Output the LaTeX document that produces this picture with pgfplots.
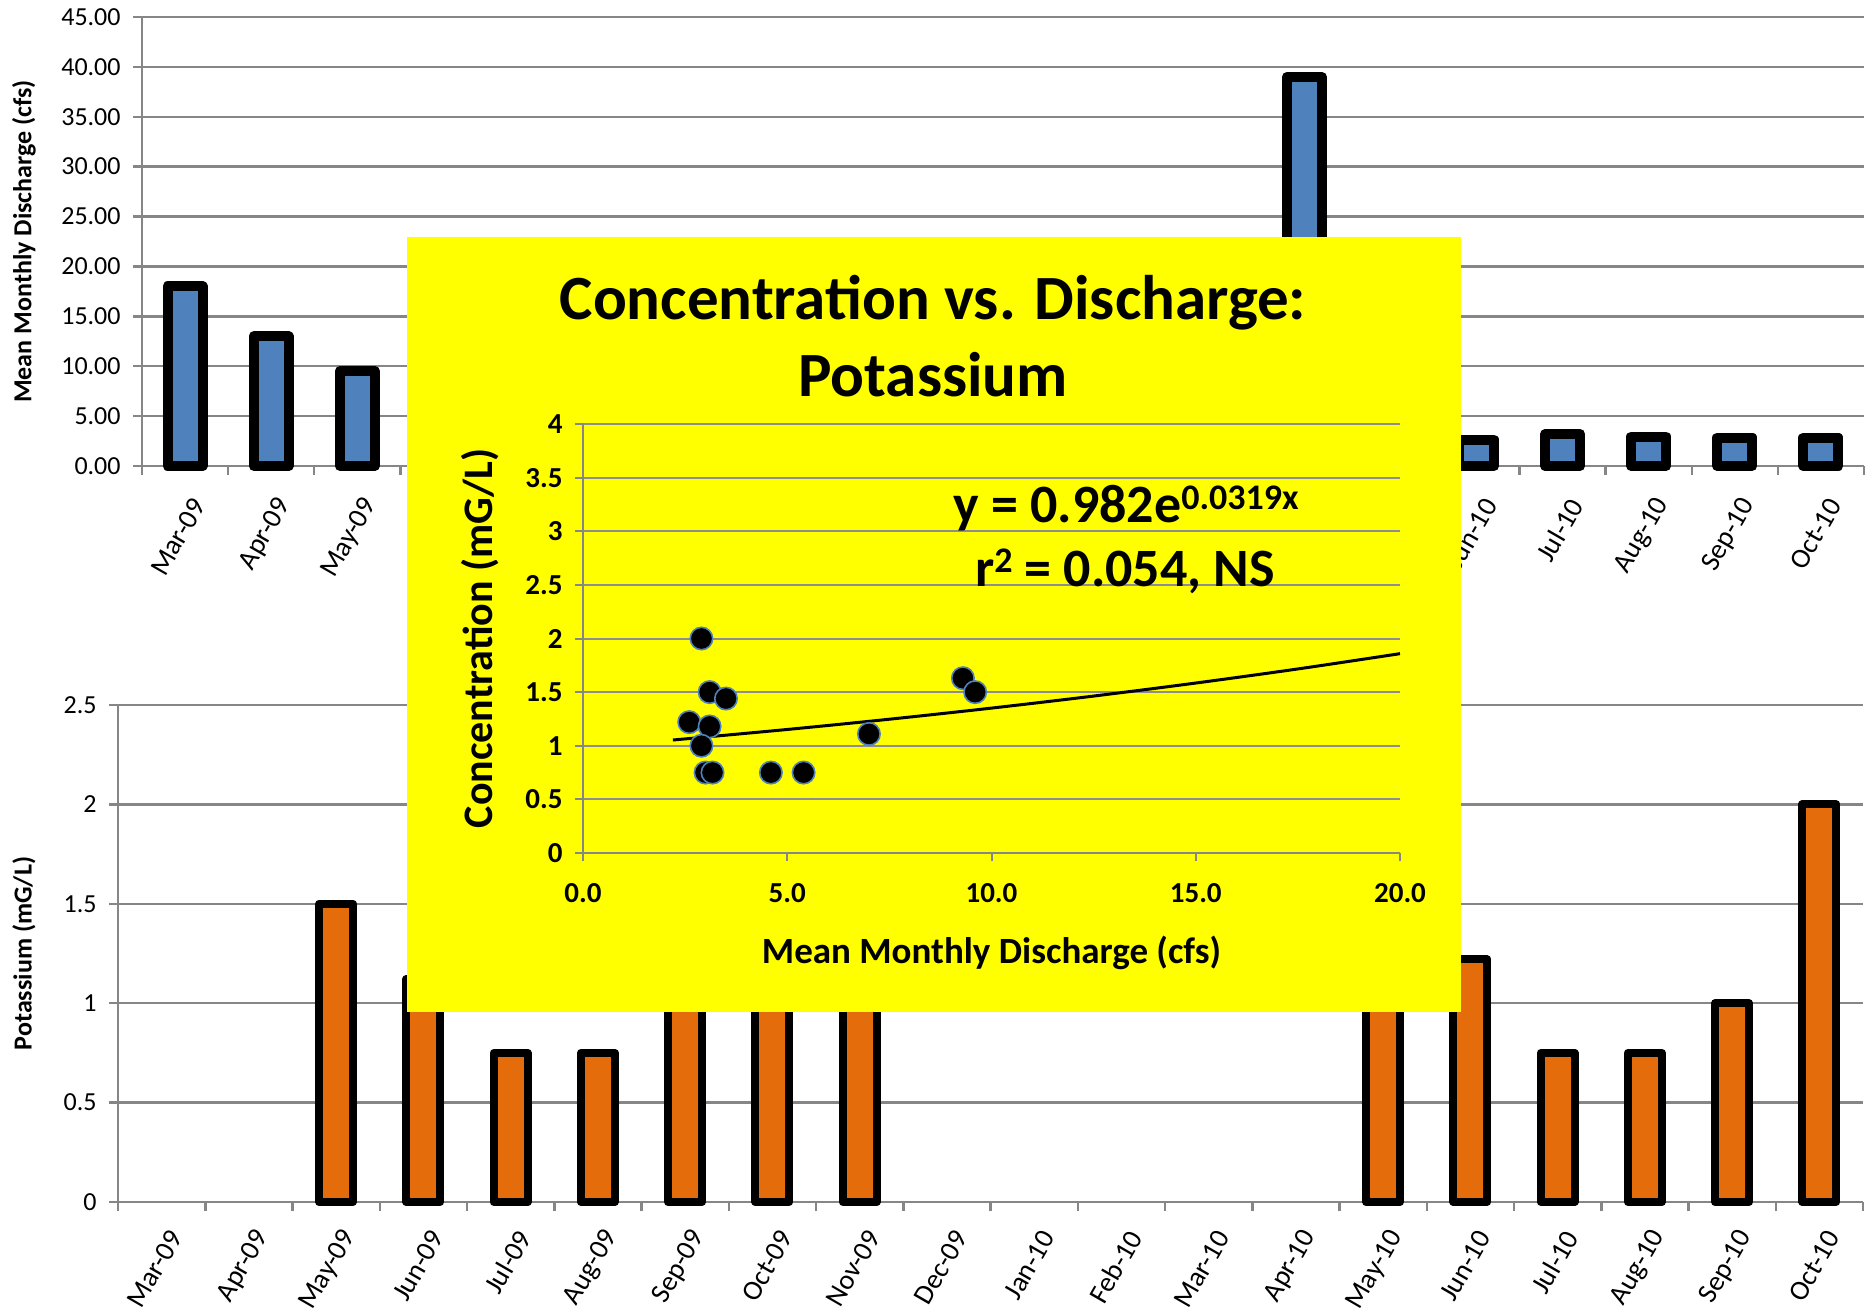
\documentclass[border=0pt]{standalone}
\usepackage{pgfplots}
\usepackage{pgfplotstable}
\pgfplotsset{compat=1.18}
\usepackage{fontspec}
\setmainfont{Carlito}
\definecolor{exblue}{HTML}{4F81BD}
\definecolor{exorange}{HTML}{E46C0A}
\definecolor{gridgray}{RGB}{134,134,134}
\definecolor{insetgrid}{RGB}{140,140,150}
\definecolor{boxyellow}{RGB}{255,255,0}

% Mean monthly discharge (cfs), months Mar-09 .. Oct-10 at x = 0.5 .. 19.5
\pgfplotstableread{
x y
0.5 18.0
1.5 13.0
2.5 9.5
3.5 7.0
4.5 5.4
5.5 4.6
6.5 3.1
7.5 3.5
8.5 3.1
9.5 4.0
10.5 5.0
11.5 6.0
12.5 14.0
13.5 39.0
14.5 9.3
15.5 2.65
16.5 3.2
17.5 2.95
18.5 2.85
19.5 2.85
}\discharge

% Potassium (mG/L)
\pgfplotstableread{
x y
2.5 1.5
3.5 1.12
4.5 0.75
5.5 0.75
6.5 1.18
7.5 1.44
8.5 1.5
14.5 1.63
15.5 1.22
16.5 0.75
17.5 0.75
18.5 1.0
19.5 2.0
}\potassium

% Concentration vs discharge
\pgfplotstableread{
q k
2.9 2.0
3.1 1.5
3.5 1.44
2.6 1.22
3.1 1.18
2.9 1.0
3.0 0.75
3.17 0.75
4.6 0.75
5.4 0.75
7.0 1.11
9.3 1.63
9.6 1.5
}\scatterdata

% exponential trendline y = 0.982 e^{0.0319x}
\pgfplotstableread{
q k
2.2 1.0534
5.0 1.1518
7.5 1.2474
10.0 1.3510
12.5 1.4632
15.0 1.5847
17.5 1.7162
20.0 1.8586
}\trend

\begin{document}
\begin{tikzpicture}
\pgfplotsset{
  monthaxis/.style={
    scale only axis,
    xmin=0, xmax=20,
    xtick={0,1,...,20},
    x tick label as interval,
    axis x line*=bottom, axis y line*=left,
    axis line style={-, draw=gridgray, line width=1.25pt},
    tick align=outside,
    major tick length=4.5pt,
    tick style={draw=gridgray, line width=1.25pt},
    ymajorgrids,
    major grid style={draw=gridgray, line width=1.25pt},
    yticklabel style={font=\fontsize{13}{15}\selectfont, inner sep=1pt, xshift=-5pt},
    every axis y label/.style={rotate=90, anchor=center, font=\bfseries\fontsize{13}{15}\selectfont},
    clip=false,
  }
}

% ---------- top: discharge ----------
% (the labels Jun-09 ... May-10 lie under the yellow inset in the reference)
\begin{axis}[monthaxis,
  at={(71pt,423pt)}, anchor=south west,
  width=861pt, height=224.5pt,
  xticklabels={Mar-09,Apr-09,May-09,,,,,,,,,,,,,Jun-10,Jul-10,Aug-10,Sep-10,Oct-10},
  xticklabel style={font=\fontsize{14}{16}\selectfont, inner sep=1pt,
      xshift=7.5pt, yshift=-12pt, rotate=60, anchor=east},
  ymin=0, ymax=45,
  ytick={0,5,...,45},
  yticklabels={0.00,5.00,10.00,15.00,20.00,25.00,30.00,35.00,40.00,45.00},
  ylabel={Mean Monthly Discharge (cfs)},
  y label style={at={(axis description cs:-0.0685,0.5)}},
]
\addplot[ybar, bar width=17.5pt, bar shift=0pt, fill=exblue, draw=black,
  line width=5pt, line join=round] table[x=x,y=y] {\discharge};
\end{axis}

% ---------- bottom: potassium ----------
\begin{axis}[monthaxis,
  at={(59pt,55pt)}, anchor=south west,
  width=872.5pt, height=248.5pt,
  xticklabels={Mar-09,Apr-09,May-09,Jun-09,Jul-09,Aug-09,Sep-09,Oct-09,Nov-09,Dec-09,Jan-10,Feb-10,Mar-10,Apr-10,May-10,Jun-10,Jul-10,Aug-10,Sep-10,Oct-10},
  xticklabel style={font=\fontsize{14}{16}\selectfont, inner sep=1pt,
      xshift=7.5pt, yshift=-10pt, rotate=60, anchor=east},
  ymin=0, ymax=2.5,
  ytick={0,0.5,...,2.5},
  yticklabels={0,0.5,1,1.5,2,2.5},
  ylabel={Potassium (mG/L)},
  y label style={at={(axis description cs:-0.0539,0.5)}},
]
\addplot[ybar, bar width=17pt, bar shift=0pt, fill=exorange, draw=black,
  line width=4pt, line join=round] table[x=x,y=y] {\potassium};
\end{axis}

% ---------- inset box ----------
\fill[boxyellow] (203.5pt,150pt) rectangle (730.5pt,537.5pt);

\begin{axis}[
  at={(291.5pt,229.5pt)}, anchor=south west,
  scale only axis, width=408.5pt, height=214.5pt,
  xmin=0, xmax=20, ymin=0, ymax=4,
  xtick={0,5,10,15,20}, xticklabels={0.0,5.0,10.0,15.0,20.0},
  ytick={0,0.5,...,4}, yticklabels={0,0.5,1,1.5,2,2.5,3,3.5,4},
  axis x line*=bottom, axis y line*=left,
  axis line style={-, draw=gridgray, line width=1pt},
  tick align=outside, major tick length=4pt,
  tick style={draw=gridgray, line width=1pt},
  ymajorgrids, major grid style={draw=insetgrid, line width=1pt},
  tick label style={font=\bfseries\fontsize{14.5}{16}\selectfont},
  yticklabel style={inner sep=1pt, xshift=-5pt},
  xticklabel style={inner sep=1pt, yshift=-10pt},
  xlabel={Mean Monthly Discharge (cfs)},
  ylabel={Concentration (mG/L)},
  every axis x label/.style={at={(axis description cs:0.5,-0.233)}, anchor=center, font=\bfseries\fontsize{18.5}{21}\selectfont},
  every axis y label/.style={at={(axis description cs:-0.126,0.5)}, rotate=90, anchor=center, font=\bfseries\fontsize{21}{24}\selectfont},
  clip=false,
]
\addplot[black, line width=1.5pt, smooth] table[x=q,y=k] {\trend};
\addplot[only marks, mark=*, mark size=5.6pt,
  mark options={fill=black, draw=exblue, line width=0.8pt}] table[x=q,y=k] {\scatterdata};
\end{axis}

\node[anchor=base, font=\bfseries\fontsize{31.5}{36}\selectfont, inner sep=0pt] at (466.5pt,496pt) {Concentration vs. Discharge:};
\node[anchor=base, font=\bfseries\fontsize{31.5}{36}\selectfont, inner sep=0pt] at (466.5pt,457.5pt) {Potassium};
\node[anchor=base, font=\bfseries\fontsize{27}{30}\selectfont, inner sep=0pt] at (563pt,394.5pt)
  {y = 0.982e\raisebox{6.7pt}{\fontsize{18}{20}\selectfont 0.0319x}};
\node[anchor=base, font=\bfseries\fontsize{27}{30}\selectfont, inner sep=0pt] at (562.5pt,362.5pt)
  {r\raisebox{7pt}{\fontsize{18}{20}\selectfont 2} = 0.054, NS};

\pgfresetboundingbox
\path (0pt,0pt) rectangle (936.5pt,656pt);
\end{tikzpicture}
\end{document}
